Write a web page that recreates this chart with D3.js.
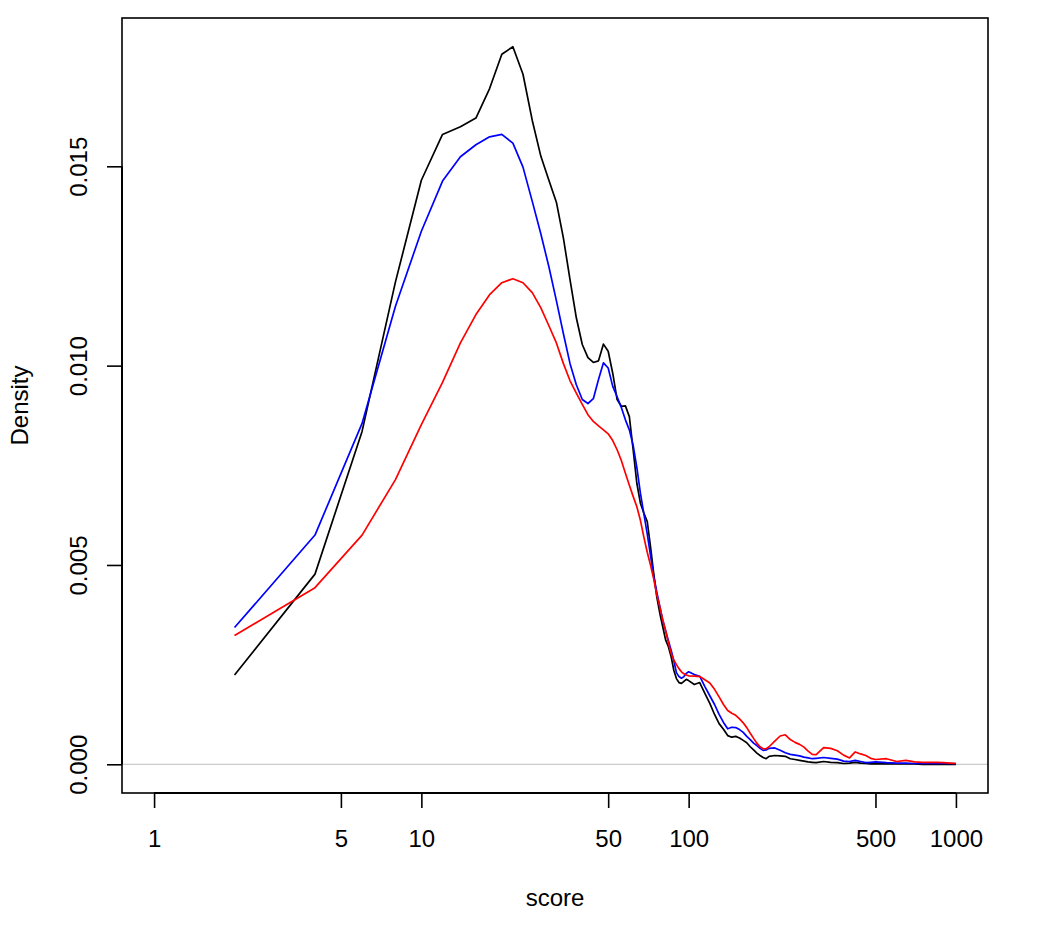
<!DOCTYPE html>
<html>
<head>
<meta charset="utf-8">
<script src="https://cdn.jsdelivr.net/npm/d3@7"></script>
<style>
  html, body { margin: 0; padding: 0; background: #fff; }
  svg { display: block; }
  text { font-family: "Liberation Sans", Arial, Helvetica, sans-serif; fill: #000; }
</style>
</head>
<body>
<svg id="chart" width="1050" height="946"></svg>
<script>
// ---- data ----
const scores = [
  2,4,6,8,10,12,14,16,18,20,
  22,24,26,28,30,32,34,36,38,40,
  42,44,46,48,50,52,54,56,58,60,
  62,64,66,68,70,72,74,76,78,80,
  82,84,86,88,90,92,94,96,98,100,
  105,110,115,120,125,130,135,140,145,150,155,160,165,170,175,180,185,190,195,200,
  210,220,230,240,250,260,270,280,290,300,
  320,340,360,380,400,420,440,460,480,500,
  550,600,650,700,750,800,850,900,950,1000
];
const densityBlack = [
  0.00224,0.00477,0.00835,0.01210,0.01465,0.01580,0.01599,0.01621,0.01695,0.01781,
  0.01800,0.01731,0.01615,0.01525,0.01465,0.01410,0.01320,0.01215,0.01120,0.01053,
  0.01020,0.01008,0.01012,0.01054,0.01036,0.00981,0.00915,0.00898,0.00899,0.00872,
  0.00789,0.00705,0.00655,0.00630,0.00609,0.00546,0.00479,0.00420,0.00379,0.00345,
  0.00312,0.00295,0.00270,0.00236,0.00215,0.00205,0.00203,0.00208,0.00213,0.00210,
  0.00200,0.00205,0.00178,0.00153,0.00125,0.00102,0.00088,0.00072,0.00068,0.00070,0.00066,0.00060,0.00054,0.00044,0.00036,0.00028,0.00022,0.00017,0.00014,0.00020,
  0.00022,0.00021,0.00020,0.00014,0.00012,0.00010,0.00008,0.00006,0.00005,0.00004,
  0.00007,0.00005,0.00004,0.00002,0.00003,0.00005,0.00003,0.00002,0.00001,0.00001,
  0.00001,0.00001,0.00001,0.00001,0.00000,0.00000,0.00000,0.00000,0.00000,0.00000
];
const densityBlue = [
  0.00343,0.00575,0.00855,0.01149,0.01337,0.01463,0.01524,0.01554,0.01574,0.01580,
  0.01558,0.01498,0.01412,0.01330,0.01248,0.01163,0.01080,0.01005,0.00952,0.00915,
  0.00905,0.00917,0.00965,0.01007,0.00994,0.00948,0.00922,0.00895,0.00864,0.00839,
  0.00800,0.00745,0.00680,0.00628,0.00578,0.00524,0.00472,0.00432,0.00396,0.00362,
  0.00335,0.00310,0.00286,0.00260,0.00230,0.00220,0.00216,0.00220,0.00228,0.00232,
  0.00225,0.00221,0.00195,0.00172,0.00150,0.00125,0.00105,0.00089,0.00093,0.00092,0.00087,0.00080,0.00070,0.00062,0.00053,0.00047,0.00040,0.00035,0.00036,0.00040,
  0.00041,0.00035,0.00029,0.00025,0.00023,0.00021,0.00018,0.00016,0.00014,0.00015,
  0.00017,0.00015,0.00013,0.00008,0.00007,0.00010,0.00007,0.00004,0.00005,0.00006,
  0.00004,0.00003,0.00003,0.00002,0.00002,0.00002,0.00002,0.00002,0.00002,0.00002
];
const densityRed = [
  0.00323,0.00443,0.00575,0.00714,0.00852,0.00958,0.01057,0.01128,0.01178,0.01208,
  0.01218,0.01208,0.01183,0.01145,0.01100,0.01057,0.01005,0.00962,0.00931,0.00903,
  0.00877,0.00860,0.00849,0.00839,0.00829,0.00812,0.00789,0.00762,0.00730,0.00700,
  0.00672,0.00646,0.00612,0.00570,0.00532,0.00500,0.00465,0.00425,0.00395,0.00362,
  0.00335,0.00305,0.00278,0.00262,0.00250,0.00240,0.00232,0.00227,0.00224,0.00222,
  0.00221,0.00220,0.00212,0.00204,0.00188,0.00169,0.00150,0.00135,0.00128,0.00123,0.00114,0.00104,0.00092,0.00078,0.00065,0.00053,0.00044,0.00039,0.00039,0.00044,
  0.00058,0.00071,0.00074,0.00062,0.00055,0.00050,0.00043,0.00033,0.00025,0.00024,
  0.00042,0.00040,0.00034,0.00023,0.00016,0.00031,0.00026,0.00022,0.00015,0.00012,
  0.00014,0.00007,0.00010,0.00006,0.00005,0.00005,0.00005,0.00004,0.00003,0.00002
];
const xTicks = [1, 5, 10, 50, 100, 500, 1000];
const yTicks = [0, 0.005, 0.010, 0.015];
const xLabel = "score";
const yLabel = "Density";

// ---- layout ----
const svg = d3.select("#chart");
const L = 122, R = 988, T = 18, B = 793;
const x = d3.scaleLog().domain([Math.pow(10, -0.12), Math.pow(10, 3.12)]).range([L, R]);
const y = d3.scaleLinear().domain([-0.00072, 0.01872]).range([B, T]);

// zero reference line
svg.append("line")
  .attr("x1", L).attr("x2", R)
  .attr("y1", y(0)).attr("y2", y(0))
  .attr("stroke", "#bebebe").attr("stroke-width", 1);

// series
const series = [
  { vals: densityBlack, color: "#000000" },
  { vals: densityBlue, color: "#0000ff" },
  { vals: densityRed, color: "#ff0000" }
];
const line = d3.line().x(d => x(d[0])).y(d => y(d[1]));
series.forEach(s => {
  svg.append("path")
    .datum(scores.map((sc, i) => [sc, s.vals[i]]))
    .attr("d", line)
    .attr("fill", "none")
    .attr("stroke", s.color)
    .attr("stroke-width", 1.7)
    .attr("stroke-linejoin", "round");
});

// plot box
svg.append("rect")
  .attr("x", L).attr("y", T)
  .attr("width", R - L).attr("height", B - T)
  .attr("fill", "none").attr("stroke", "#000").attr("stroke-width", 1.6);

// x axis
const xAxis = d3.axisBottom(x)
  .tickValues(xTicks)
  .tickFormat(d3.format("d"))
  .tickSize(15)
  .tickPadding(22);
const gx = svg.append("g").attr("transform", `translate(0,${B})`).call(xAxis);
gx.select(".domain").remove();
gx.append("line")
  .attr("x1", x(xTicks[0])).attr("x2", x(xTicks[xTicks.length - 1]))
  .attr("y1", 0).attr("y2", 0)
  .attr("stroke", "#000").attr("stroke-width", 2);
gx.selectAll(".tick line").attr("stroke", "#000").attr("stroke-width", 1.6);
gx.selectAll(".tick text")
  .attr("font-size", 24)
  .attr("font-family", "'Liberation Sans', Arial, sans-serif")
  .attr("fill", "#000");

// y axis
const yAxis = d3.axisLeft(y)
  .tickValues(yTicks)
  .tickFormat(d3.format(".3f"))
  .tickSize(15)
  .tickPadding(0);
const gy = svg.append("g").attr("transform", `translate(${L},0)`).call(yAxis);
gy.select(".domain").remove();
gy.append("line")
  .attr("x1", 0).attr("x2", 0)
  .attr("y1", y(yTicks[0])).attr("y2", y(yTicks[yTicks.length - 1]))
  .attr("stroke", "#000").attr("stroke-width", 2);
gy.selectAll(".tick line").attr("stroke", "#000").attr("stroke-width", 1.6);
gy.selectAll(".tick text")
  .attr("font-size", 24)
  .attr("font-family", "'Liberation Sans', Arial, sans-serif")
  .attr("fill", "#000")
  .attr("x", null).attr("dy", null)
  .attr("text-anchor", "middle")
  .attr("transform", "translate(-35,0) rotate(-90)");

// axis titles
svg.append("text")
  .attr("x", (L + R) / 2).attr("y", 906)
  .attr("text-anchor", "middle")
  .attr("font-size", 24)
  .text(xLabel);
svg.append("text")
  .attr("transform", `translate(28,${(T + B) / 2}) rotate(-90)`)
  .attr("text-anchor", "middle")
  .attr("font-size", 24)
  .text(yLabel);
</script>
</body>
</html>
